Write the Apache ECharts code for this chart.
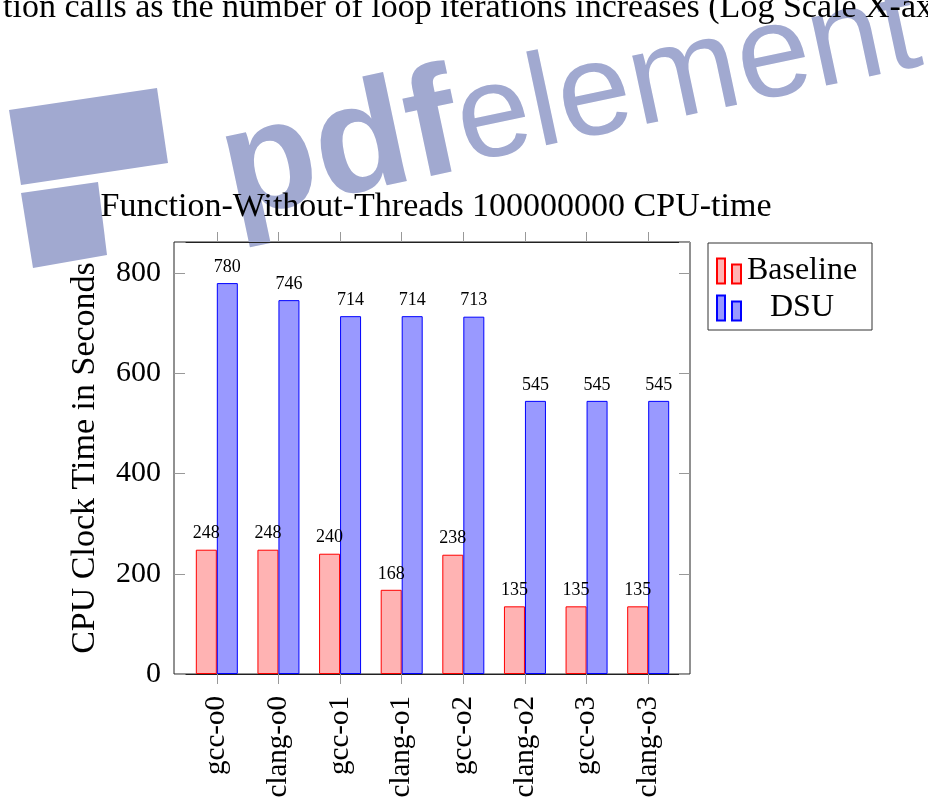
<!DOCTYPE html>
<html>
<head>
<meta charset="utf-8">
<script src="https://cdn.jsdelivr.net/npm/echarts@6/dist/echarts.min.js"></script>
<style>
  body { margin: 0; background: #fff; }
  #main { width: 928px; height: 809px; }
</style>
</head>
<body>
<div id="main"></div>
<script>
const categories = ['gcc-o0', 'clang-o0', 'gcc-o1', 'clang-o1', 'gcc-o2', 'clang-o2', 'gcc-o3', 'clang-o3']
const baseline = [248, 248, 240, 168, 238, 135, 135, 135]
const dsu = [780, 746, 714, 714, 713, 545, 545, 545]
const yTicks = [0, 200, 400, 600, 800]

const serif = 'Liberation Serif'
const tickColor = '#999'
const frameColor = '#222'
const markColor = '#a1a9d0'
const yMax = 862

let chart = echarts.init(document.getElementById('main'))

const option = {
  animation: false,
  title: {
    text: 'Function-Without-Threads 100000000 CPU-time',
    left: 431,
    top: 185,
    textAlign: 'center',
    z: 10,
    textStyle: { fontFamily: serif, fontSize: 34, fontWeight: 'normal', color: '#000' }
  },
  legend: {
    data: ['Baseline', 'DSU'],
    orient: 'vertical',
    left: 708,
    top: 243,
    padding: [12, 14, 6, 8],
    itemGap: 5,
    itemWidth: 24,
    itemHeight: 25,
    itemTextGap: 6,
    borderColor: '#333',
    borderWidth: 1,
    icon: 'path://M0,0h8v25h-8z M15,6h9v19h-9z',
    formatter: name => '{a|' + name + '}',
    textStyle: {
      rich: {
        a: { fontFamily: serif, fontSize: 32, color: '#000', width: 112, align: 'center', lineHeight: 34 }
      }
    }
  },
  grid: [
    // frame
    { left: 174, top: 242, width: 516, height: 432, show: true, borderColor: frameColor, borderWidth: 1, backgroundColor: 'transparent' },
    // bars
    { left: 186, top: 242, width: 493, height: 432 }
  ],
  xAxis: [
    { type: 'value', gridIndex: 0, show: false, min: 0, max: 1 },
    {
      type: 'category', gridIndex: 1, data: categories, position: 'bottom',
      axisLine: { show: true, lineStyle: { color: frameColor, width: 1 } },
      axisTick: { show: true, alignWithLabel: true, length: 10, lineStyle: { color: tickColor } },
      axisLabel: { rotate: 90, margin: 22, fontFamily: serif, fontSize: 29, color: '#000', interval: 0 }
    },
    {
      type: 'category', gridIndex: 1, data: categories, position: 'top',
      axisLine: { show: true, lineStyle: { color: frameColor, width: 1 } },
      axisTick: { show: true, alignWithLabel: true, length: 10, lineStyle: { color: tickColor } },
      axisLabel: { show: false }
    }
  ],
  yAxis: [
    {
      type: 'value', gridIndex: 0, position: 'left', min: 0, max: yMax, interval: 200,
      name: 'CPU Clock Time in Seconds', nameLocation: 'middle', nameGap: 72,
      nameTextStyle: { fontFamily: serif, fontSize: 34, color: '#000' },
      axisLine: { show: false },
      splitLine: { show: false },
      axisTick: { inside: true, length: 11, lineStyle: { color: tickColor } },
      axisLabel: {
        margin: 13, fontFamily: serif, fontSize: 30, color: '#000', showMaxLabel: false,
        formatter: v => yTicks.includes(v) ? String(v) : ''
      }
    },
    {
      type: 'value', gridIndex: 0, position: 'right', min: 0, max: yMax, interval: 200,
      axisLine: { show: false },
      splitLine: { show: false },
      axisTick: { inside: true, length: 11, lineStyle: { color: tickColor } },
      axisLabel: { show: false }
    },
    { type: 'value', gridIndex: 1, min: 0, max: yMax, show: false }
  ],
  series: [
    {
      name: 'Baseline', type: 'bar', xAxisIndex: 1, yAxisIndex: 2,
      data: baseline, barWidth: 21, barGap: '0%',
      itemStyle: { color: '#ffb3b3', borderColor: '#ff0000', borderWidth: 1 },
      label: { show: true, position: 'top', distance: 7, fontFamily: serif, fontSize: 18, color: '#000' }
    },
    {
      name: 'DSU', type: 'bar', xAxisIndex: 1, yAxisIndex: 2,
      data: dsu, barWidth: 21, barGap: '0%',
      itemStyle: { color: '#9999ff', borderColor: '#0000ff', borderWidth: 1 },
      label: { show: true, position: 'top', distance: 7, fontFamily: serif, fontSize: 18, color: '#000' }
    }
  ],
  graphic: [
    // watermark, drawn under the text
    {
      type: 'polygon', z: 0, silent: true,
      shape: { points: [[9, 110], [157, 88], [168, 163], [21, 185]] },
      style: { fill: markColor }
    },
    {
      type: 'polygon', z: 0, silent: true,
      shape: { points: [[21, 193], [98, 182], [107, 255], [33, 268]] },
      style: { fill: markColor }
    },
    {
      type: 'text', z: 0, silent: true,
      x: 240, y: 252, rotation: 0.21,
      style: {
        text: '{b|pdf}{r|element}',
        verticalAlign: 'bottom',
        rich: {
          b: { fontFamily: 'Liberation Sans', fontSize: 154, fontWeight: 'bold', fill: markColor },
          r: { fontFamily: 'Liberation Sans', fontSize: 132, fill: markColor }
        }
      }
    },
    {
      type: 'text', left: 3, top: -9, z: 5,
      style: { text: 'tion calls as the number of loop iterations increases (Log Scale X-axis)', font: '34px "Liberation Serif"', fill: '#000' }
    }
  ]
}

chart.setOption(option)
</script>
</body>
</html>
